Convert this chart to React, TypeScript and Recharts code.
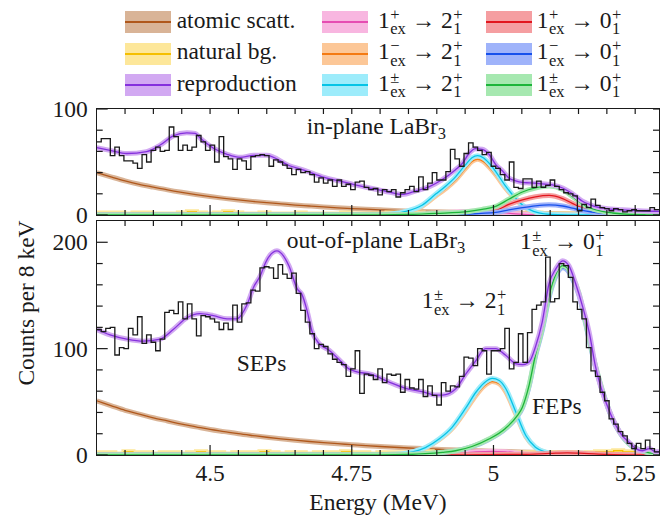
import React from "react";
import { ComposedChart, Line, XAxis, YAxis } from "recharts";

// energy binning of the measured spectra (MeV)
const E_START = 4.3;
const E_END = 5.292;
const BIN = 0.008;
const BG_BIN = 0.016;

const xTicks = [4.35, 4.4, 4.45, 4.5, 4.55, 4.6, 4.65, 4.7, 4.75, 4.8, 4.85, 4.9, 4.95, 5, 5.05, 5.1, 5.15, 5.2, 5.25];
const xLabelTicks = [4.5, 4.75, 5, 5.25];
const topYTicks = [0, 20, 40, 60, 80, 100];
const topYLabels = [0, 100];
const bottomYTicks = [0, 20, 40, 60, 80, 100, 120, 140, 160, 180, 200];
const bottomYLabels = [0, 100, 200];

// counts per 8 keV, in-plane detectors
const topCounts = [
  69, 72, 72, 56, 64, 56, 51, 51, 49, 44, 57, 50, 61, 64, 60, 61, 83, 74, 61, 66,
  61, 64, 75, 69, 61, 66, 50, 74, 55, 53, 43, 53, 51, 43, 55, 56, 57, 56, 46, 52,
  50, 47, 44, 38, 43, 40, 41, 38, 31, 35, 30, 33, 27, 33, 27, 29, 24, 31, 32, 26,
  24, 25, 19, 24, 22, 24, 17, 21, 24, 27, 22, 36, 24, 30, 40, 33, 33, 41, 62, 53,
  46, 58, 68, 64, 61, 57, 59, 46, 44, 38, 33, 50, 26, 25, 34, 34, 26, 32, 26, 28,
  33, 27, 24, 21, 20, 18, 4, 10, 7, 15, 9, 7, 6, 4, 6, 5, 3, 4, 5, 4,
  4, 4, 7, 5,
];

// counts per 8 keV, out-of-plane detectors
const bottomCounts = [
  118, 116, 119, 120, 94, 101, 100, 119, 113, 130, 105, 113, 106, 98, 109, 134, 136, 133, 144, 128,
  142, 128, 112, 131, 130, 128, 125, 118, 124, 118, 141, 125, 142, 143, 155, 154, 176, 177, 176, 166,
  179, 170, 166, 171, 152, 136, 125, 114, 100, 104, 102, 95, 90, 87, 85, 74, 81, 98, 58, 76,
  75, 71, 81, 68, 76, 75, 76, 59, 71, 63, 62, 71, 55, 65, 56, 47, 68, 60, 65, 64,
  74, 92, 91, 84, 100, 98, 76, 98, 98, 100, 119, 81, 87, 114, 87, 115, 137, 141, 144, 186,
  144, 147, 180, 178, 167, 144, 137, 128, 101, 79, 74, 59, 51, 34, 29, 22, 18, 11, 6, 11,
  6, 14, 6, 3,
];

// natural background, 16 keV bins
const topNaturalBg = [
  2, 2, 2, 1, 2, 2, 1, 1, 1, 2, 3, 2, 1, 2, 3, 2, 1, 1, 2, 1, 1, 1, 2, 1, 1, 1, 1, 2, 1, 1, 1,
  1, 2, 1, 1, 2, 1, 1, 2, 1, 1, 2, 1, 1, 1, 1, 1, 1, 2, 1, 1, 1, 1, 1, 1, 1, 1, 1, 1, 1, 1, 1,
];
const bottomNaturalBg = [
  2, 2, 1, 3, 2, 2, 1, 2, 2, 1, 2, 3, 2, 2, 1, 2, 2, 2, 3, 2, 1, 2, 2, 1, 2, 2, 2, 3, 2, 2, 1,
  2, 2, 2, 1, 2, 3, 2, 2, 2, 3, 2, 2, 2, 1, 2, 2, 2, 2, 1, 2, 2, 2, 1, 2, 3, 3, 4, 3, 3, 2, 2,
];

type Pt = [number, number];

const topAtomic: Pt[] = [
  [4.3, 40], [4.325, 36], [4.35, 32.2], [4.375, 29], [4.4, 26.3], [4.425, 23.7], [4.45, 21.4], [4.475, 19.3],
  [4.5, 17.4], [4.525, 15.7], [4.55, 14.2], [4.575, 12.8], [4.6, 11.6], [4.625, 10.5], [4.65, 9.4], [4.675, 8.5],
  [4.7, 7.6], [4.725, 6.8], [4.75, 6.1], [4.775, 5.5], [4.8, 4.9], [4.825, 4.3], [4.85, 3.8], [4.875, 3.4],
  [4.9, 3], [4.95, 2.4], [5.0, 2], [5.05, 1.6], [5.1, 1.3], [5.15, 1.1], [5.2, 0.9], [5.25, 0.7], [5.292, 0.6],
];
const topRepro: Pt[] = [
  [4.3, 63.5], [4.3235, 61], [4.353, 58], [4.388, 59.8], [4.412, 66], [4.435, 74.6], [4.459, 77.5], [4.474, 77],
  [4.4825, 72.6], [4.506, 63], [4.53, 57.3], [4.553, 54.4], [4.577, 56.3], [4.6, 56.3], [4.639, 46.7], [4.668, 41.9],
  [4.698, 36], [4.727, 32.2], [4.756, 28.4], [4.786, 25], [4.815, 21.7], [4.839, 19.4], [4.862, 22.6], [4.886, 26.5],
  [4.909, 33.2], [4.933, 42.8], [4.945, 48.6], [4.957, 58.2], [4.968, 62.6], [4.98, 62], [4.992, 57.3], [5.004, 47.6],
  [5.016, 41.5], [5.027, 35], [5.039, 32.2], [5.051, 30.7], [5.063, 30.3], [5.086, 29.4], [5.104, 28.4], [5.122, 25.5],
  [5.133, 22.2], [5.145, 17.8], [5.157, 13], [5.169, 10.1], [5.18, 7.9], [5.198, 6.1], [5.227, 4.9], [5.257, 4], [5.292, 3.4],
];
const topPlus2: Pt[] = [
  [4.3, 0], [4.8, 0.1], [4.85, 0.3], [4.9, 1.6], [4.933, 2.8], [4.962, 3.5], [4.982, 3.5], [5.004, 3],
  [5.039, 1.1], [5.08, 0.2], [5.15, 0], [5.292, 0],
];
const topMinus2: Pt[] = [
  [4.3, 0], [4.75, 0.1], [4.804, 0.4], [4.845, 3], [4.874, 8.3], [4.898, 18], [4.916, 25], [4.933, 33],
  [4.95, 43.5], [4.962, 50.5], [4.972, 52.5], [4.982, 50.5], [4.992, 45.5], [5.004, 38], [5.021, 25.5], [5.039, 14.8],
  [5.051, 8.8], [5.063, 4.9], [5.08, 1.7], [5.1, 0.4], [5.13, 0.1], [5.2, 0], [5.292, 0],
];
const topPm2: Pt[] = [
  [4.3, 0], [4.75, 0.1], [4.804, 0.5], [4.845, 3.4], [4.874, 9.2], [4.898, 19.7], [4.916, 27.4], [4.933, 36],
  [4.95, 47], [4.962, 54], [4.972, 56], [4.982, 54], [4.992, 49], [5.004, 41], [5.021, 27.4], [5.039, 15.9],
  [5.051, 9.5], [5.063, 5.3], [5.08, 1.9], [5.1, 0.5], [5.13, 0.1], [5.2, 0], [5.292, 0],
];
const topPlus0: Pt[] = [
  [4.3, 0], [4.85, 0.2], [4.9, 0.5], [4.95, 1.5], [5.004, 4.3], [5.027, 10], [5.051, 14.3], [5.074, 17.2],
  [5.098, 18.5], [5.122, 15.5], [5.139, 11], [5.157, 6.5], [5.174, 4], [5.192, 2.1], [5.21, 1.1], [5.24, 0.3], [5.292, 0],
];
const topMinus0: Pt[] = [
  [4.3, 0], [4.9, 0.3], [4.95, 0.8], [5.004, 2.4], [5.027, 4.8], [5.051, 7], [5.074, 8.7], [5.098, 9.6],
  [5.122, 8.5], [5.139, 6.5], [5.157, 4.3], [5.174, 2.8], [5.192, 1.5], [5.21, 0.8], [5.24, 0.3], [5.292, 0],
];
const topPm0: Pt[] = [
  [4.3, 0], [4.8, 0.2], [4.85, 0.5], [4.9, 1.5], [4.957, 3.4], [4.98, 5.3], [5.004, 8.2], [5.027, 14.9],
  [5.051, 21.7], [5.074, 25.5], [5.098, 27.4], [5.122, 24], [5.139, 17.5], [5.157, 10.5], [5.174, 6], [5.192, 3.4],
  [5.21, 1.9], [5.24, 0.6], [5.27, 0.2], [5.292, 0.1],
];

const bottomAtomic: Pt[] = [
  [4.3, 51], [4.325, 46.5], [4.35, 42], [4.375, 38.5], [4.4, 35], [4.425, 32], [4.45, 29], [4.475, 26.5],
  [4.5, 24], [4.525, 22], [4.55, 20], [4.575, 18.3], [4.6, 16.7], [4.625, 15.2], [4.65, 13.9], [4.675, 12.7],
  [4.7, 11.6], [4.725, 10.6], [4.75, 9.7], [4.775, 8.8], [4.8, 8], [4.825, 7.3], [4.85, 6.6], [4.875, 6],
  [4.9, 5.4], [4.925, 4.9], [4.95, 4.4], [4.975, 4], [5.0, 3.6], [5.05, 2.9], [5.1, 2.3], [5.15, 1.8],
  [5.2, 1.4], [5.25, 1.1], [5.292, 0.9],
];
const bottomRepro: Pt[] = [
  [4.3, 118], [4.3235, 113], [4.353, 109], [4.382, 107], [4.412, 109], [4.435, 118], [4.459, 129], [4.482, 133],
  [4.506, 131], [4.53, 128], [4.547, 128], [4.565, 141], [4.577, 158], [4.589, 169], [4.598, 181], [4.618, 192],
  [4.639, 178], [4.654, 156], [4.662, 151], [4.671, 136], [4.68, 116], [4.692, 105], [4.71, 98.5], [4.727, 90],
  [4.745, 81], [4.756, 78.7], [4.786, 75.6], [4.815, 68.7], [4.845, 62.6], [4.874, 59.5], [4.898, 56.3], [4.91, 56.3],
  [4.933, 62], [4.951, 76], [4.968, 88], [4.986, 100], [5.004, 100], [5.021, 94], [5.039, 86], [5.051, 85],
  [5.063, 87.5], [5.074, 101.6], [5.086, 125], [5.098, 161], [5.11, 175], [5.122, 182.6], [5.133, 178], [5.145, 161],
  [5.157, 140], [5.169, 115], [5.18, 83], [5.192, 59.5], [5.204, 41.8], [5.216, 27.7], [5.227, 18.3], [5.239, 12],
  [5.251, 6], [5.263, 4], [5.275, 6], [5.286, 3], [5.292, 3],
];
const bottomPlus2: Pt[] = [
  [4.3, 0], [4.85, 0.1], [4.88, 0.4], [4.927, 1.2], [4.969, 3], [4.998, 3.5], [5.021, 3], [5.057, 1],
  [5.09, 0.2], [5.15, 0], [5.292, 0],
];
const bottomMinus2: Pt[] = [
  [4.3, 0], [4.75, 0.1], [4.8, 0.3], [4.84, 1.2], [4.857, 2.8], [4.88, 6.6], [4.904, 14.3], [4.927, 24.8],
  [4.951, 42], [4.969, 56], [4.984, 65], [4.998, 69], [5.01, 67], [5.021, 60], [5.039, 39], [5.057, 17.5],
  [5.074, 7], [5.092, 2.5], [5.11, 1], [5.14, 0.3], [5.2, 0], [5.292, 0],
];
const bottomPm2: Pt[] = [
  [4.3, 0], [4.75, 0.1], [4.8, 0.3], [4.82, 0.6], [4.84, 1.3], [4.857, 3], [4.88, 7], [4.904, 15],
  [4.927, 26], [4.951, 44], [4.969, 59], [4.984, 68], [4.998, 72], [5.01, 70], [5.021, 63], [5.039, 41],
  [5.057, 18.3], [5.074, 7.3], [5.092, 2.6], [5.11, 1], [5.14, 0.3], [5.2, 0], [5.292, 0],
];
const bottomPlus0: Pt[] = [
  [4.3, 0], [4.95, 0.2], [5.05, 0.6], [5.1, 1.5], [5.13, 2], [5.16, 1.5], [5.2, 0.6], [5.25, 0.1], [5.292, 0],
];
const bottomMinus0: Pt[] = [
  [4.3, 0], [4.8, 0.2], [4.85, 0.5], [4.88, 1.1], [4.91, 2.4], [4.933, 3.9], [4.962, 7.8], [4.992, 14.6],
  [5.021, 24.5], [5.042, 36.3], [5.051, 44.2], [5.063, 65], [5.074, 92.7], [5.086, 117.4], [5.098, 148], [5.11, 168],
  [5.122, 176], [5.13, 174], [5.139, 166], [5.151, 150], [5.163, 122.5], [5.174, 95.8], [5.186, 71], [5.198, 50.3],
  [5.21, 33.5], [5.222, 21.7], [5.233, 13.8], [5.245, 7.9], [5.257, 4.9], [5.275, 2], [5.292, 1],
];
const bottomPm0: Pt[] = [
  [4.3, 0], [4.8, 0.2], [4.85, 0.5], [4.88, 1.2], [4.91, 2.5], [4.933, 4], [4.962, 8], [4.992, 15],
  [5.021, 25], [5.042, 37], [5.051, 45], [5.063, 66], [5.074, 94], [5.086, 119], [5.098, 150], [5.11, 170],
  [5.122, 178], [5.13, 176], [5.139, 168], [5.151, 152], [5.163, 124], [5.174, 97], [5.186, 72], [5.198, 51],
  [5.21, 34], [5.222, 22], [5.233, 14], [5.245, 8], [5.257, 5], [5.275, 2], [5.292, 1],
];

const INK = "#1a1a1a";
const SERIF = "Liberation Serif";
const FS = 23.5;

const C = {
  atomic: { band: "#d9b497", line: "#b0581c" },
  natural: { band: "#fde79a", line: "#f5bf00" },
  repro: { band: "#d2a9f2", line: "#8530dd" },
  plus2: { band: "#f8b6e0", line: "#e64db2" },
  minus2: { band: "#fcc797", line: "#f47a12" },
  pm2: { band: "#9decfb", line: "#05c4e6" },
  plus0: { band: "#f59ea1", line: "#e2161e" },
  minus0: { band: "#9fb3fa", line: "#1650ec" },
  pm0: { band: "#a6e8b0", line: "#1cb53a" },
};

// plot rectangles (px)
const PLOT_L = 96.7;
const PLOT_R = 659;
const TOP_T = 109;
const TOP_B = 215;
const BOT_T = 221;
const BOT_B = 455;

const hist = (counts: number[], width: number) => [
  ...counts.map((v, i) => ({ e: E_START + i * width, v })),
  { e: E_START + counts.length * width, v: counts[counts.length - 1] },
];
const curve = (pts: Pt[]) => pts.map(([e, v]) => ({ e, v }));
const isIn = (list: number[], v: number) => list.some((t) => Math.abs(t - v) < 1e-6);

function xTick(plotH: number, withLabels: boolean) {
  return (props: any) => {
    const { x, y, payload } = props;
    const v = payload.value;
    const major = isIn(xLabelTicks, v);
    return (
      <g>
        <line x1={x} x2={x} y1={y} y2={y - (major ? 10 : 5)} stroke={INK} strokeWidth={1.2} />
        <line x1={x} x2={x} y1={y - plotH} y2={y - plotH + 5} stroke={INK} strokeWidth={1.2} />
        {withLabels && major && (
          <text x={x} y={y + 26} textAnchor="middle" fontSize={FS} fontFamily={SERIF} fill={INK}>
            {String(v)}
          </text>
        )}
      </g>
    );
  };
}

function yTick(plotW: number, labels: number[]) {
  return (props: any) => {
    const { x, y, payload } = props;
    const v = payload.value;
    const major = isIn(labels, v);
    return (
      <g>
        <line x1={x} x2={x + (major ? 11 : 6)} y1={y} y2={y} stroke={INK} strokeWidth={1.2} />
        <line x1={x + plotW} x2={x + plotW - 6} y1={y} y2={y} stroke={INK} strokeWidth={1.2} />
        {major && (
          <text x={x - 9} y={y + 8} textAnchor="end" fontSize={FS} fontFamily={SERIF} fill={INK}>
            {String(v)}
          </text>
        )}
      </g>
    );
  };
}

type Series = { id: string; data: { e: number; v: number }[]; c: { band: string; line: string }; step?: boolean };

function banded(s: Series) {
  const type = s.step ? "stepAfter" : "monotone";
  return [
    <Line key={s.id + "-band"} data={s.data} dataKey="v" type={type} stroke={s.c.band} strokeWidth={5}
      dot={false} activeDot={false} isAnimationActive={false} />,
    <Line key={s.id + "-line"} data={s.data} dataKey="v" type={type} stroke={s.c.line} strokeWidth={1.3}
      dot={false} activeDot={false} isAnimationActive={false} />,
  ];
}

function Panel(props: {
  top: number; height: number; plotT: number; plotB: number; yMax: number;
  yTicks: number[]; yLabels: number[]; counts: number[]; series: Series[]; withXLabels: boolean;
}) {
  const { top, height, plotT, plotB, yMax, yTicks, yLabels, counts, series, withXLabels } = props;
  // axes get 1px of room: an axis of zero size is not drawn at all
  const margin = { top: plotT - top, bottom: top + height - plotB - 1, left: PLOT_L - 1, right: 670 - PLOT_R };
  return (
    <div style={{ position: "absolute", left: 0, top }}>
      <ComposedChart width={670} height={height} margin={margin}>
        <XAxis dataKey="e" type="number" domain={[E_START, E_END]} allowDataOverflow ticks={xTicks}
          interval={0} height={1} tickSize={0} tickMargin={0} axisLine={false} tickLine={false}
          tick={xTick(plotB - plotT, withXLabels)} />
        <YAxis type="number" domain={[0, yMax]} allowDataOverflow ticks={yTicks} interval={0} width={1}
          tickSize={0} tickMargin={0} axisLine={false} tickLine={false} tick={yTick(PLOT_R - PLOT_L, yLabels)} />
        {series.flatMap(banded)}
        <Line data={hist(counts, BIN)} dataKey="v" type="stepAfter" stroke={INK} strokeWidth={1.3}
          dot={false} activeDot={false} isAnimationActive={false} />
      </ComposedChart>
    </div>
  );
}

function SS({ sup, sub, w }: { sup: string; sub: string; w: number }) {
  const s = { position: "absolute" as const, left: 0.5, fontSize: 16.5, lineHeight: "12px" };
  return (
    <span style={{ display: "inline-block", position: "relative", width: w, height: 0 }}>
      <span style={{ ...s, top: -19 }}>{sup}</span>
      <span style={{ ...s, top: -4.6 }}>{sub}</span>
    </span>
  );
}

function Trans({ p, f }: { p: string; f: string }) {
  return (
    <span>
      1<SS sup={p} sub="ex" w={16} /> → {f}<SS sup="+" sub="1" w={10} />
    </span>
  );
}

function Txt({ x, base, children }: { x: number; base: number; children: React.ReactNode }) {
  return (
    <div style={{ position: "absolute", left: x, top: base - 0.8375 * FS, fontSize: FS, lineHeight: `${FS}px`,
      whiteSpace: "nowrap", fontFamily: SERIF, color: INK }}>
      {children}
    </div>
  );
}

const LaBr = () => (
  <>LaBr<span style={{ fontSize: 16.5, position: "relative", top: 5 }}>3</span></>
);

const legendCols = [{ sw: 125, tx: 176.7 }, { sw: 322.4, tx: 378 }, { sw: 485.5, tx: 536.7 }];
const legendRows = [11, 42.8, 74];
const legendItems: { col: number; row: number; c: { band: string; line: string }; label: React.ReactNode }[] = [
  { col: 0, row: 0, c: C.atomic, label: "atomic scatt." },
  { col: 0, row: 1, c: C.natural, label: "natural bg." },
  { col: 0, row: 2, c: C.repro, label: "reproduction" },
  { col: 1, row: 0, c: C.plus2, label: <Trans p="+" f="2" /> },
  { col: 1, row: 1, c: C.minus2, label: <Trans p="−" f="2" /> },
  { col: 1, row: 2, c: C.pm2, label: <Trans p="±" f="2" /> },
  { col: 2, row: 0, c: C.plus0, label: <Trans p="+" f="0" /> },
  { col: 2, row: 1, c: C.minus0, label: <Trans p="−" f="0" /> },
  { col: 2, row: 2, c: C.pm0, label: <Trans p="±" f="0" /> },
];

export default function App() {
  const topSeries: Series[] = [
    { id: "atomic", data: curve(topAtomic), c: C.atomic },
    { id: "natural", data: hist(topNaturalBg, BG_BIN), c: C.natural, step: true },
    { id: "plus2", data: curve(topPlus2), c: C.plus2 },
    { id: "minus2", data: curve(topMinus2), c: C.minus2 },
    { id: "pm2", data: curve(topPm2), c: C.pm2 },
    { id: "plus0", data: curve(topPlus0), c: C.plus0 },
    { id: "minus0", data: curve(topMinus0), c: C.minus0 },
    { id: "pm0", data: curve(topPm0), c: C.pm0 },
    { id: "repro", data: curve(topRepro), c: C.repro },
  ];
  const bottomSeries: Series[] = [
    { id: "atomic", data: curve(bottomAtomic), c: C.atomic },
    { id: "natural", data: hist(bottomNaturalBg, BG_BIN), c: C.natural, step: true },
    { id: "plus2", data: curve(bottomPlus2), c: C.plus2 },
    { id: "minus2", data: curve(bottomMinus2), c: C.minus2 },
    { id: "pm2", data: curve(bottomPm2), c: C.pm2 },
    { id: "plus0", data: curve(bottomPlus0), c: C.plus0 },
    { id: "minus0", data: curve(bottomMinus0), c: C.minus0 },
    { id: "pm0", data: curve(bottomPm0), c: C.pm0 },
    { id: "repro", data: curve(bottomRepro), c: C.repro },
  ];

  const frame = (t: number, b: number) => (
    <div style={{ position: "absolute", left: PLOT_L - 0.75, top: t - 0.75, width: PLOT_R - PLOT_L + 1.5,
      height: b - t + 1.5, border: `1.5px solid ${INK}`, boxSizing: "border-box", pointerEvents: "none" }} />
  );

  return (
    <div style={{ position: "absolute", left: 0, top: 0, width: 670, height: 517, background: "#fff",
      overflow: "hidden", fontFamily: SERIF, color: INK }}>
      <Panel top={0} height={230} plotT={TOP_T} plotB={TOP_B} yMax={100} yTicks={topYTicks}
        yLabels={topYLabels} counts={topCounts} series={topSeries} withXLabels={false} />
      <Panel top={200} height={317} plotT={BOT_T} plotB={BOT_B} yMax={220} yTicks={bottomYTicks}
        yLabels={bottomYLabels} counts={bottomCounts} series={bottomSeries} withXLabels />
      {frame(TOP_T, TOP_B)}
      {frame(BOT_T, BOT_B)}

      <svg width={670} height={517} style={{ position: "absolute", left: 0, top: 0, pointerEvents: "none" }}>
        <text x={378} y={510} textAnchor="middle" fontSize={FS} fontFamily={SERIF} fill={INK}>Energy (MeV)</text>
        <text transform="translate(34 303) rotate(-90)" textAnchor="middle" fontSize={FS} fontFamily={SERIF}
          fill={INK}>Counts per 8 keV</text>
      </svg>

      {legendItems.map((it, i) => (
        <React.Fragment key={i}>
          <div style={{ position: "absolute", left: legendCols[it.col].sw, top: legendRows[it.row], width: 46,
            height: 22, background: it.c.band }}>
            <div style={{ position: "absolute", left: 0, right: 0, top: 10, height: 2, background: it.c.line }} />
          </div>
          <Txt x={legendCols[it.col].tx} base={legendRows[it.row] + 17.3}>{it.label}</Txt>
        </React.Fragment>
      ))}

      <Txt x={306.7} base={135}>in-plane <LaBr /></Txt>
      <Txt x={286.7} base={248.7}>out-of-plane <LaBr /></Txt>
      <Txt x={520} base={250}><Trans p="±" f="0" /></Txt>
      <Txt x={421.7} base={309}><Trans p="±" f="2" /></Txt>
      <Txt x={236.7} base={372}>SEPs</Txt>
      <Txt x={532} base={414.7}>FEPs</Txt>
    </div>
  );
}
